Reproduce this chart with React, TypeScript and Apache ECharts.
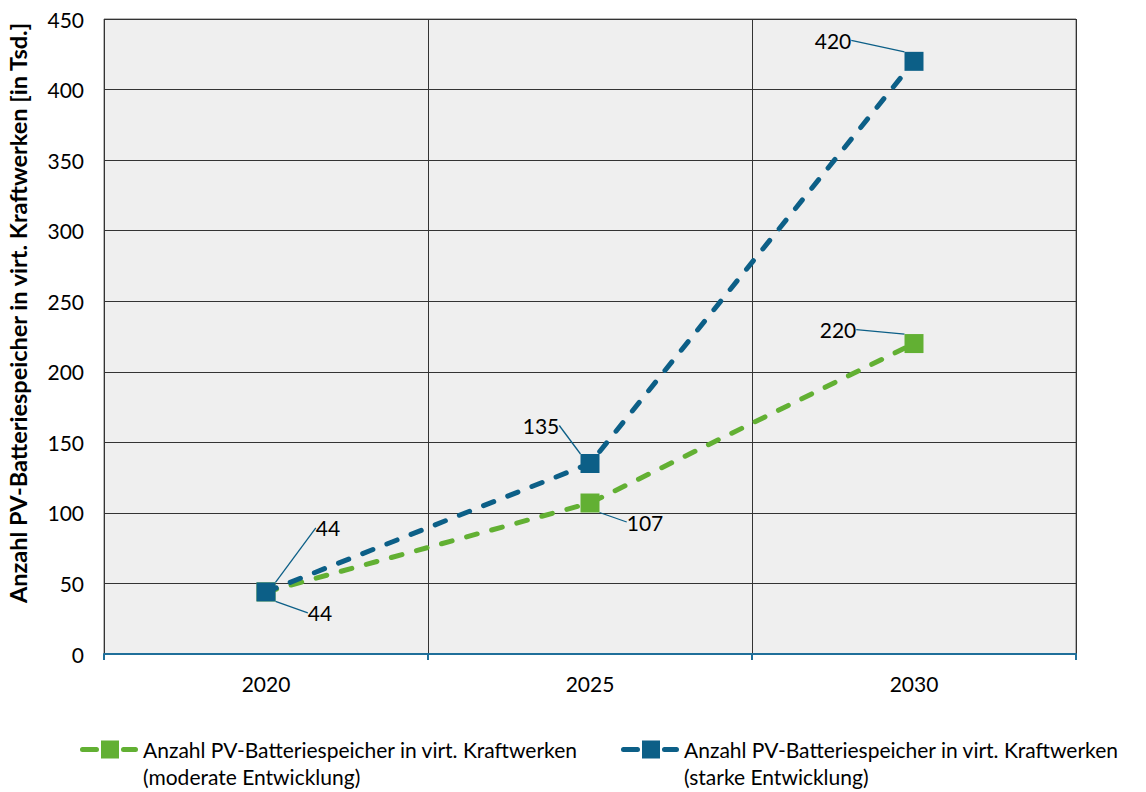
import React, { useEffect, useRef } from "react";
import * as echarts from "echarts";

const categories = ["2020", "2025", "2030"];
const moderate = [44, 107, 220];
const strong = [44, 135, 420];
const seriesNames = [
  "Anzahl PV-Batteriespeicher in virt. Kraftwerken\n(moderate Entwicklung)",
  "Anzahl PV-Batteriespeicher in virt. Kraftwerken\n(starke Entwicklung)",
];
const yTitle = "Anzahl PV-Batteriespeicher in virt. Kraftwerken [in Tsd.]";

const GREEN = "#62b033";
const BLUE = "#0c5f87";
const FONT = "Lato, 'Open Sans', sans-serif";
const FS = 21;

const greenOffsets = [
  [54, 21],
  [55, 19],
  [-76, -14],
];
const blueOffsets = [
  [62, -64],
  [-49, -38],
  [-81, -21],
];

const LEGEND_ICON =
  "path://M2.5,6.5h14a2.5,2.5 0 0 1 0,5h-14a2.5,2.5 0 0 1 0,-5z" +
  "M21,0h18v18h-18z" +
  "M43.5,6.5h12a2.5,2.5 0 0 1 0,5h-12a2.5,2.5 0 0 1 0,-5z";

export default function App() {
  const ref = useRef<HTMLDivElement>(null);
  useEffect(() => {
    if (!ref.current) return;
    const chart = echarts.init(ref.current, undefined, { renderer: "svg" });
    const mkSeries = (name: string, data: number[], color: string, offs: number[][], z: number) => ({
      type: "line",
      name,
      data,
      z,
      symbol: "rect",
      symbolSize: 19,
      itemStyle: { color },
      lineStyle: { color, width: 5, type: [11, 15], cap: "round" },
      label: {
        show: true,
        position: "inside",
        color: "#000",
        fontSize: FS,
        fontFamily: FONT,
        formatter: "{c}",
      },
      labelLine: { show: true, lineStyle: { color: BLUE, width: 1.3 } },
      labelLayout: (p: any) => ({ dx: offs[p.dataIndex][0], dy: offs[p.dataIndex][1] }),
      emphasis: { disabled: true },
    });
    const legendText = {
      fontSize: FS,
      color: "#000",
      lineHeight: 27,
      fontFamily: FONT,
    };
    const legendBase = {
      top: 704,
      itemWidth: 58,
      itemHeight: 18,
      itemGap: 0,
      icon: LEGEND_ICON,
      textStyle: legendText,
      formatter: (n: string) => " \n" + n,
    };
    chart.setOption({
      animation: false,
      textStyle: { fontFamily: FONT },
      grid: {
        left: 104,
        right: 70,
        top: 19,
        bottom: 138,
        show: true,
        backgroundColor: "#efefef",
        borderColor: "#6e6e6e",
        borderWidth: 1,
      },
      graphic: [
        {
          type: "text",
          x: 18,
          y: 313,
          rotation: Math.PI / 2,
          style: {
            text: yTitle,
            fontSize: 23.5,
            fontWeight: "bold",
            fill: "#000",
            fontFamily: FONT,
            align: "center",
            verticalAlign: "middle",
          },
        },
      ],
      legend: [
        { ...legendBase, data: [seriesNames[0]], left: 75 },
        { ...legendBase, data: [seriesNames[1]], left: 616 },
      ],
      xAxis: {
        type: "category",
        data: categories,
        boundaryGap: true,
        axisLine: { lineStyle: { color: "#1f6f9a", width: 2 } },
        axisTick: { show: true, length: 6, lineStyle: { color: "#1f6f9a", width: 2 } },
        axisLabel: { color: "#000", fontSize: FS, margin: 19, fontFamily: FONT },
        splitLine: { show: true, lineStyle: { color: "#333", width: 1 } },
      },
      yAxis: {
        type: "value",
        min: 0,
        max: 450,
        interval: 50,
        axisLine: { show: false },
        axisTick: { show: false },
        axisLabel: { color: "#000", fontSize: FS, margin: 20, fontFamily: FONT },
        splitLine: { show: true, lineStyle: { color: "#333", width: 1 } },
      },
      series: [
        mkSeries(seriesNames[0], moderate, GREEN, greenOffsets, 2),
        mkSeries(seriesNames[1], strong, BLUE, blueOffsets, 3),
      ],
    });
    return () => chart.dispose();
  }, []);
  return <div ref={ref} style={{ width: 1146, height: 792, position: "absolute", left: 0, top: 0 }} />;
}
